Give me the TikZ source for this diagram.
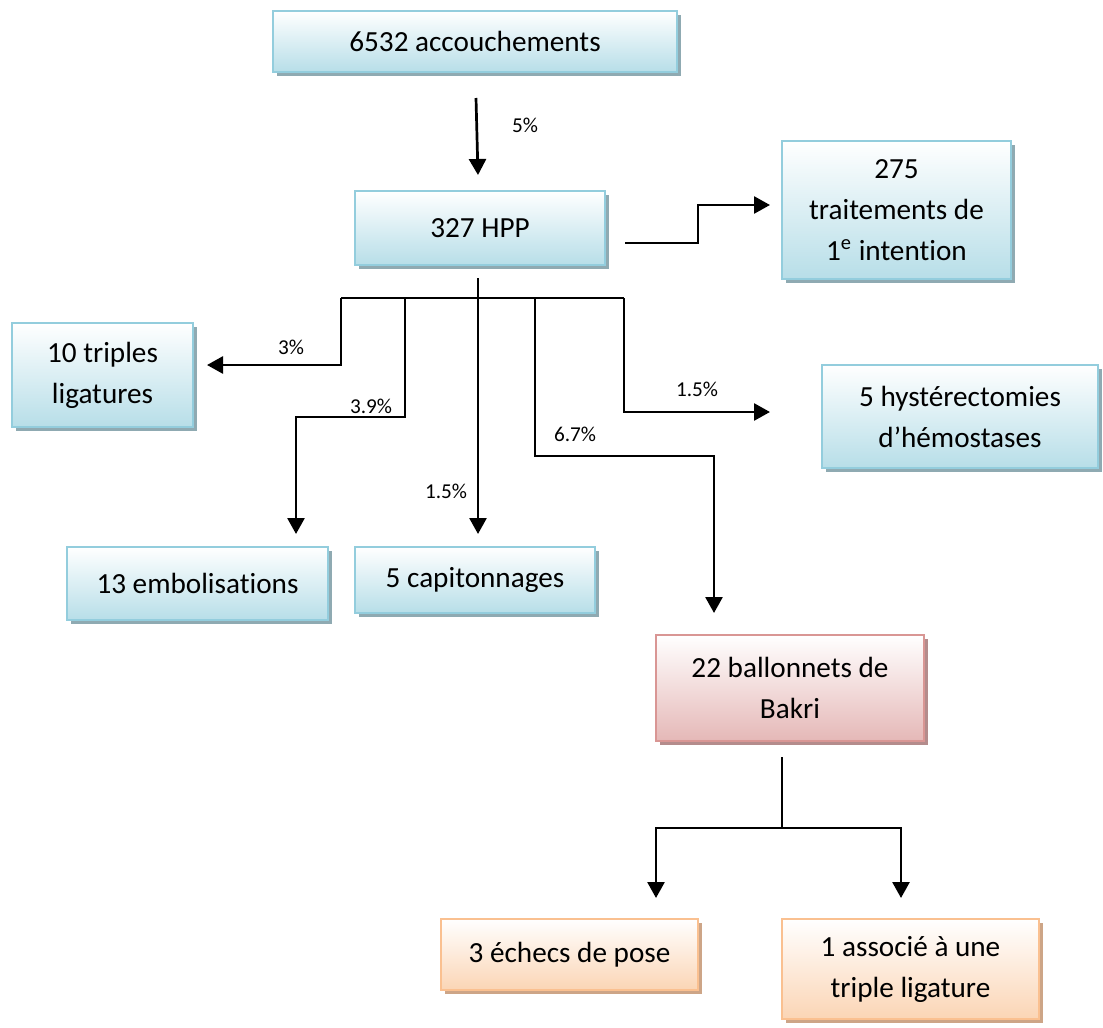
\documentclass[tikz,border=0pt]{standalone}
\usepackage{fontspec}
\setmainfont{Carlito}[Ligatures=NoCommon]
\usetikzlibrary{arrows.meta,shadows}

\definecolor{bleuTrait}{RGB}{147,205,221}
\definecolor{bleuFond}{RGB}{183,222,232}
\definecolor{bleuOmbre}{RGB}{143,170,178}
\definecolor{rougeTrait}{RGB}{217,150,148}
\definecolor{rougeFond}{RGB}{229,184,183}
\definecolor{rougeOmbre}{RGB}{180,140,140}
\definecolor{orangeTrait}{RGB}{250,192,144}
\definecolor{orangeFond}{RGB}{251,213,181}
\definecolor{orangeOmbre}{RGB}{205,165,135}

\tikzset{
  boite/.style={draw, line width=1pt, align=center, inner sep=0pt,
    font=\fontsize{14.6pt}{20.5pt}\selectfont},
  bleu/.style={boite, draw=bleuTrait, top color=white, bottom color=bleuFond,
    general shadow={fill=bleuOmbre, shadow xshift=2pt, shadow yshift=-2pt}},
  rouge/.style={boite, draw=rougeTrait, top color=white, bottom color=rougeFond,
    general shadow={fill=rougeOmbre, shadow xshift=2pt, shadow yshift=-2pt}},
  orange/.style={boite, draw=orangeTrait, top color=white, bottom color=orangeFond,
    general shadow={fill=orangeOmbre, shadow xshift=2pt, shadow yshift=-2pt}},
  taux/.style={font=\fontsize{10.6pt}{13pt}\selectfont},
  lien/.style={line width=1.35pt},
  fleche/.style={lien, -{Triangle[length=8pt,width=8.5pt]}}
}

\begin{document}
\begin{tikzpicture}[x=0.5pt, y=-0.5pt]
  \useasboundingbox (0,0) rectangle (1103,1028);

  \node[bleu, minimum width=202pt, minimum height=30.5pt] (acc) at (475,41.5) {6532 accouchements};
  \node[bleu, minimum width=125pt, minimum height=37pt] (hpp) at (480,228) {327 HPP};
  \node[bleu, minimum width=114.5pt, minimum height=69pt] (prem) at (896.5,210) {275\\traitements de\\1\textsuperscript{e} intention};
  \node[bleu, minimum width=90.5pt, minimum height=52pt] (trip) at (102.5,375) {10 triples\\ligatures};
  \node[bleu, minimum width=138pt, minimum height=51.5pt] (hyst) at (960,416.5) {5 hystérectomies\\d’hémostases};
  \node[bleu, minimum width=130.5pt, minimum height=36.5pt] (embo) at (197.5,583.5) {13 embolisations};
  \node[bleu, minimum width=120pt, minimum height=33pt] (capi) at (475,580) {5 capitonnages};
  \node[rouge, minimum width=134pt, minimum height=53pt] (bakri) at (790,688) {22 ballonnets de\\Bakri};
  \node[orange, minimum width=128.5pt, minimum height=35.5pt] (echec) at (569.5,954.5) {3 échecs de pose};
  \node[orange, minimum width=128.5pt, minimum height=50pt] (assoc) at (910.5,969) {1 associé à une\\triple ligature};

  \coordinate (d1) at (476,98);
  \coordinate (d2) at (478,175);
  \coordinate (p1) at (625,243);
  \coordinate (p2) at (770,205);
  \coordinate (s1) at (478,278);
  \coordinate (s2) at (478,298);
  \coordinate (b1) at (341,298);
  \coordinate (b2) at (405,298);
  \coordinate (b3) at (535,298);
  \coordinate (b4) at (624,298);
  \coordinate (f1) at (207,365);
  \coordinate (f2) at (296,534);
  \coordinate (f3) at (478,534);
  \coordinate (f4) at (714,613);
  \coordinate (f5) at (770,412);
  \coordinate (r1) at (782,757);
  \coordinate (r2) at (782,828);
  \coordinate (r3) at (656,898);
  \coordinate (r4) at (901,898);

  \draw[fleche] (d1) -- (d2);
  \node[taux] (t5) at (525,125) {5\%};
  \draw[fleche] (p1) -- ++(73,0) |- (p2);

  \draw[lien] (s1) -- (s2);
  \draw[lien] (b1) -- (b4);
  \draw[fleche] (b1) |- (f1);
  \node[taux] (t3) at (291,347) {3\%};
  \draw[fleche] (b2) -- ++(0,119) -| (f2);
  \node[taux] (t39) at (371,406) {3.9\%};
  \draw[fleche] (s2) -- (f3);
  \node[taux] (t15a) at (446,491) {1.5\%};
  \draw[fleche] (b3) -- ++(0,158) -| (f4);
  \node[taux] (t67) at (575,434) {6.7\%};
  \draw[fleche] (b4) |- (f5);
  \node[taux] (t15b) at (697,389) {1.5\%};

  \draw[lien] (r1) -- (r2);
  \draw[fleche] (r2) -| (r3);
  \draw[fleche] (r2) -| (r4);
\end{tikzpicture}
\end{document}
